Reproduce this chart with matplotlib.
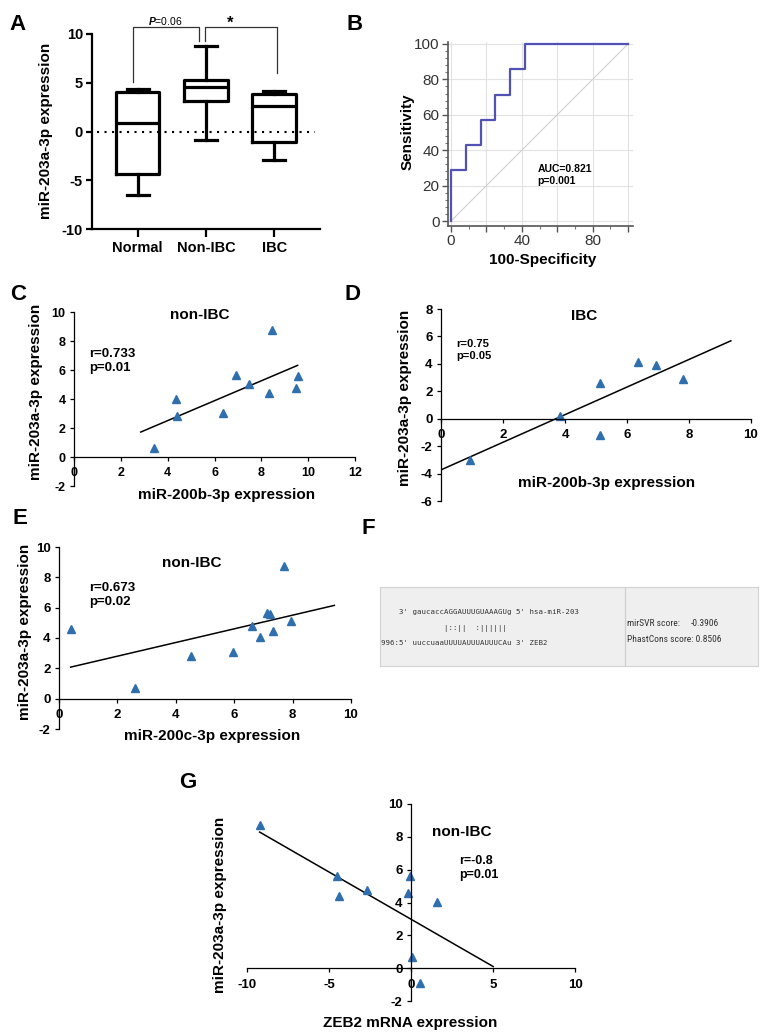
import matplotlib
matplotlib.use('Agg')
import matplotlib.pyplot as plt
import numpy as np
from matplotlib.ticker import MultipleLocator
from matplotlib import font_manager

plt.rcParams['font.family'] = ['Liberation Sans', 'DejaVu Sans']
plt.rcParams['font.weight'] = 'bold'
plt.rcParams['axes.unicode_minus'] = False
plt.rcParams['mathtext.fontset'] = 'custom'
plt.rcParams['mathtext.rm'] = 'Liberation Sans'
plt.rcParams['mathtext.it'] = 'Liberation Sans:italic'

W, H = 764, 1036

# A: box plot stats
groups = ['Normal', 'Non-IBC', 'IBC']
box_whislo = [-6.5, -0.9, -2.9]
box_q1 = [-4.4, 3.1, -1.1]
box_med = [0.9, 4.6, 2.6]
box_q3 = [4.1, 5.3, 3.8]
box_whishi = [4.4, 8.8, 4.15]
# comparison brackets: (x left, x right, low left, low right), label
brackets = [(0.93, 1.90, 5.1, 9.3), (1.98, 3.04, 9.3, 6.0)]
bracket_labels = ['$\\mathit{P}$=0.06', '*']

# B: ROC curve
roc_fpr = [0, 0, 8.3, 16.7, 25.0, 33.3, 41.7, 100]
roc_tpr = [0, 28.6, 42.9, 57.1, 71.4, 85.7, 100, 100]

# C: non-IBC, miR-200b vs miR-203a
c_x = [3.42, 4.36, 4.39, 6.36, 6.90, 7.47, 8.32, 8.46, 9.46, 9.55]
c_y = [0.64, 4.02, 2.80, 3.06, 5.63, 5.06, 4.39, 8.76, 4.74, 5.56]
c_fit_x = [2.85, 9.55]
c_fit_y = [1.72, 6.32]

# D: IBC, miR-200b vs miR-203a
d_x = [0.92, 3.85, 5.12, 5.12, 6.34, 6.92, 7.80]
d_y = [-2.98, 0.17, 2.60, -1.22, 4.15, 3.95, 2.88]
d_fit_x = [0.0, 9.35]
d_fit_y = [-3.73, 5.68]

# E: non-IBC, miR-200c vs miR-203a
e_x = [0.40, 2.59, 4.53, 5.95, 6.60, 6.89, 7.13, 7.23, 7.33, 7.70, 7.96]
e_y = [4.57, 0.70, 2.84, 3.10, 4.77, 4.09, 5.67, 5.58, 4.44, 8.77, 5.10]
e_fit_x = [0.40, 9.43]
e_fit_y = [2.08, 6.15]

# G: non-IBC, ZEB2 vs miR-203a
g_x = [-9.23, -4.52, -4.40, -2.70, -0.20, -0.08, 0.08, 0.57, 1.58]
g_y = [8.74, 5.63, 4.41, 4.74, 4.57, 5.59, 0.67, -0.91, 4.04]
g_fit_x = [-9.23, 5.01]
g_fit_y = [8.29, 0.10]

# F: target site text
site_lines = ["    3' gaucaccAGGAUUUGUAAAGUg 5' hsa-miR-203",
              "              |::||  :||||||",
              "996:5' uuccuaaUUUUAUUUAUUUCAu 3' ZEB2"]
mirsvr = '-0.3906'
phastcons = '0.8506'

blue = '#2f6fae'

# narrow font for the miRNA.org box if one is around
installed = {f.name for f in font_manager.fontManager.ttflist}
narrow, narrow_fs = 'Liberation Sans', 5.6
for name in ['Liberation Sans Narrow', 'Roboto Condensed', 'Open Sans Condensed']:
    if name in installed:
        narrow, narrow_fs = name, 6.8
        break

fig = plt.figure(figsize=(W / 100, H / 100), dpi=100)


def add_ax(l, t, r, b):
    return fig.add_axes([l / W, 1 - b / H, (r - l) / W, (b - t) / H])


def ftext(x, y, s, **kw):
    return fig.text(x / W, 1 - y / H, s, **kw)


# ---- A ----
axA = add_ax(92, 34, 320, 229)
stats = [dict(label=g, whislo=a, q1=b, med=c, q3=d, whishi=e, fliers=[])
         for g, a, b, c, d, e in zip(groups, box_whislo, box_q1, box_med, box_q3, box_whishi)]
lw = 2.3
axA.bxp(stats, positions=[1, 2, 3], widths=0.64, capwidths=0.32, showfliers=False,
        boxprops=dict(color='k', lw=lw), whiskerprops=dict(color='k', lw=lw),
        capprops=dict(color='k', lw=lw), medianprops=dict(color='k', lw=lw))
axA.plot([0.40, 3.59], [0, 0], color='k', lw=1.5, ls=(0, (1, 2.6)))
axA.set_xlim(0.333, 3.67)
axA.set_ylim(-10, 10)
axA.set_yticks([-10, -5, 0, 5, 10])
axA.set_xticks([1, 2, 3], groups)
axA.spines[['top', 'right']].set_visible(False)
axA.spines[['left', 'bottom']].set_linewidth(1.6)
axA.tick_params(axis='y', length=4.5, width=1.6, pad=2, labelsize=10.5)
axA.tick_params(axis='x', length=6, width=1.6, pad=3, labelsize=10.5)
for (x0, x1, y0, y1), lab in zip(brackets, bracket_labels):
    axA.plot([x0, x0, x1, x1], [y0, 10.7, 10.7, y1], color='#333', lw=0.9, clip_on=False)
axA.text(1.41, 11.3, bracket_labels[0], ha='center', va='center', fontsize=7.5,
         fontweight='normal')
axA.text(2.36, 11.1, bracket_labels[1], ha='center', va='center', fontsize=12)
ftext(46, 131, 'miR-203a-3p expression', rotation=90, ha='center', va='center', fontsize=11)

# ---- B ----
axB = add_ax(448, 42, 633, 226)
axB.plot([0, 100], [0, 100], color='#cfcfcf', lw=0.8)
axB.plot(roc_fpr, roc_tpr, drawstyle='steps-post', color='#5252b5', lw=1.6, clip_on=False)
axB.set_xlim(-1.7, 102.8)
axB.set_ylim(-2.8, 101.1)
axB.set_xticks([0, 20, 40, 60, 80, 100], ['0', '', '40', '', '80', ''],
               fontweight='normal', color='#333')
axB.set_yticks([0, 20, 40, 60, 80, 100], ['0', '20', '40', '60', '80', '100'],
               fontweight='normal', color='#333')
axB.xaxis.set_minor_locator(MultipleLocator(10))
axB.yaxis.set_minor_locator(MultipleLocator(4))
axB.grid(True, color='#e2e2e2', lw=0.8)
axB.set_axisbelow(True)
axB.spines[['top', 'right']].set_visible(False)
axB.spines[['left', 'bottom']].set_color('#555')
axB.spines[['left', 'bottom']].set_linewidth(1.2)
axB.tick_params(which='major', length=4, width=1, color='#555', labelsize=11, pad=2)
axB.tick_params(which='minor', length=2.5, width=0.8, color='#777')
axB.text(49, 26, 'AUC=0.821\np=0.001', fontsize=7.5, ha='left', va='center',
         linespacing=1.3)
ftext(408, 132, 'Sensitivity', rotation=90, ha='center', va='center', fontsize=11)
ftext(543, 260, '100-Specificity', ha='center', va='center', fontsize=11)


# ---- scatter panels ----
def scatter_panel(box, xs, ys, fx, fy, xlim, ylim, xticks, yticks, fs):
    ax = add_ax(*box)
    ax.plot(fx, fy, color='k', lw=1.1)
    ax.plot(xs, ys, ls='none', marker='^', ms=5.5, color=blue, clip_on=False)
    ax.set_xlim(xlim)
    ax.set_ylim(ylim)
    ax.set_xticks(xticks)
    ax.set_yticks(yticks)
    ax.spines[['top', 'right']].set_visible(False)
    ax.spines['bottom'].set_position(('data', 0))
    ax.spines['left'].set_position(('data', 0))
    ax.spines[['left', 'bottom']].set_linewidth(0.9)
    ax.tick_params(axis='x', length=3, width=0.9, pad=4.5, labelsize=fs)
    ax.tick_params(axis='y', length=3, width=0.9, pad=3, labelsize=fs)
    return ax


axC = scatter_panel((74, 312, 355, 486), c_x, c_y, c_fit_x, c_fit_y, (0, 12), (-2, 10),
                    [0, 2, 4, 6, 8, 10, 12], [-2, 0, 2, 4, 6, 8, 10], 9)
ftext(200, 315, 'non-IBC', ha='center', va='center', fontsize=11)
ftext(89, 361, 'r=0.733\np=0.01', ha='left', va='center', fontsize=9.5, linespacing=1.25)
ftext(36, 392, 'miR-203a-3p expression', rotation=90, ha='center', va='center', fontsize=11)
ftext(227, 495, 'miR-200b-3p expression', ha='center', va='center', fontsize=11)

axD = scatter_panel((441, 309, 751, 501), d_x, d_y, d_fit_x, d_fit_y, (0, 10), (-6, 8),
                    [0, 2, 4, 6, 8, 10], [-6, -4, -2, 0, 2, 4, 6, 8], 9.5)
ftext(584, 316, 'IBC', ha='center', va='center', fontsize=11)
ftext(456, 350, 'r=0.75\np=0.05', ha='left', va='center', fontsize=8, linespacing=1.3)
ftext(405, 398, 'miR-203a-3p expression', rotation=90, ha='center', va='center', fontsize=11)
ftext(607, 483, 'miR-200b-3p expression', ha='center', va='center', fontsize=11)

axE = scatter_panel((59, 547, 351, 729), e_x, e_y, e_fit_x, e_fit_y, (0, 10), (-2, 10),
                    [0, 2, 4, 6, 8, 10], [-2, 0, 2, 4, 6, 8, 10], 9.5)
ftext(192, 563, 'non-IBC', ha='center', va='center', fontsize=11)
ftext(89, 595, 'r=0.673\np=0.02', ha='left', va='center', fontsize=9.5, linespacing=1.25)
ftext(25, 632, 'miR-203a-3p expression', rotation=90, ha='center', va='center', fontsize=11)
ftext(212, 736, 'miR-200c-3p expression', ha='center', va='center', fontsize=11)

axG = scatter_panel((247, 804, 575, 1001), g_x, g_y, g_fit_x, g_fit_y, (-10, 10), (-2, 10),
                    [-10, -5, 0, 5, 10], [-2, 0, 2, 4, 6, 8, 10], 9.5)
ftext(462, 832, 'non-IBC', ha='center', va='center', fontsize=11)
ftext(459, 868, 'r=-0.8\np=0.01', ha='left', va='center', fontsize=9, linespacing=1.3)
ftext(220, 905, 'miR-203a-3p expression', rotation=90, ha='center', va='center', fontsize=11)
ftext(410, 1023, 'ZEB2 mRNA expression', ha='center', va='center', fontsize=11)

# ---- F ----
axF = add_ax(380, 587, 758, 666)
axF.set_facecolor('#efefef')
axF.set_xticks([])
axF.set_yticks([])
for s in axF.spines.values():
    s.set_color('#d2d2d2')
axF.axvline((625 - 380) / (758 - 380), color='#cfcfcf', lw=0.9)
for s, y in zip(site_lines, [612, 629, 643]):
    ftext(381, y, s, family='DejaVu Sans Mono', fontsize=5.3, fontweight='normal',
          color='#333', ha='left', va='center')
fkw = dict(family=narrow, fontsize=narrow_fs, fontweight='normal', color='#333', va='center')
ftext(627, 623, 'mirSVR score:', ha='left', **fkw)
ftext(719, 623, mirsvr, ha='right', **fkw)
ftext(627, 640, 'PhastCons score: ' + phastcons, ha='left', **fkw)

# ---- panel letters ----
for letter, (x, y) in zip('ABCDEFG', [(18, 25), (355, 25), (18, 294), (353, 294),
                                      (20, 518), (368, 528), (188, 782)]):
    ftext(x, y, letter, fontsize=16, ha='center', va='center')

fig.savefig('out.png', dpi=100)
